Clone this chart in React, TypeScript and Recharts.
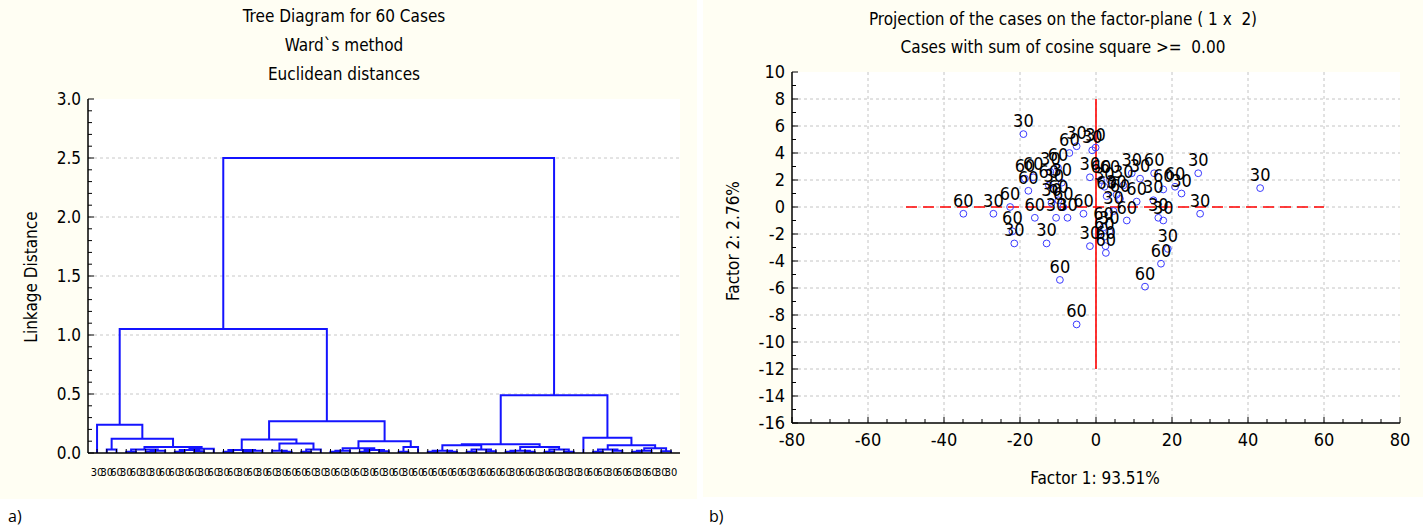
import React from 'react';
import { ComposedChart, Line, Scatter, XAxis, YAxis, ReferenceLine } from 'recharts';

type Node = string | [Node, Node, number];

// Dendrogram (Ward, Euclidean). Leaves carry the case label, inner nodes the linkage distance.
const A1: Node = ['30', [['30', '60', 0.03], [
  [['30', '60', 0.01], [['30', '30', 0.01], '60', 0.02], 0.03],
  [[['60', '30', 0.01], ['60', '30', 0.015], 0.025], '60', 0.035],
  0.05], 0.12], 0.24];
const A2a: Node = [
  [['30', '60', 0.01], [['30', '60', 0.01], '30', 0.02], 0.025],
  [['60', ['30', '60', 0.01], 0.02], [['60', '60', 0.01], '30', 0.03], 0.08],
  0.115];
const A2b: Node = [
  [[['30', '60', 0.01], '30', 0.02], [['60', '30', 0.01], ['60', '30', 0.015], 0.025], 0.04],
  [['60', '30', 0.01], '60', 0.05],
  0.10];
const B1: Node = [
  [[['60', '60', 0.01], ['60', '60', 0.01], 0.02], [['60', '30', 0.01], ['60', '60', 0.015], 0.03], 0.065],
  [[['60', '30', 0.01], ['60', '60', 0.01], 0.02], [['30', '60', 0.01], ['30', '30', 0.01], 0.03], 0.05],
  0.075];
const B2: Node = ['30', [
  [['60', '60', 0.01], ['30', '60', 0.02], 0.03],
  [[['60', '30', 0.01], '60', 0.02], ['30', '30', 0.015], 0.04],
  0.065], 0.13];
const TREE: Node = [[A1, [A2a, A2b, 0.27], 1.05], [B1, B2, 0.49], 2.5];

const DEND_Y_MAJOR = [0, 0.5, 1, 1.5, 2, 2.5, 3];

// Factor plane projection
const F1 = [
  -19.1, -7.0, -5.1, -1.0, -0.1, -1.6, -18.7, -16.5, -17.8, -22.6,
  -34.9, -27.0, -22.0, -21.5, -16.1, -13.0, -10.5, -7.5, -3.3, -9.5,
  -5.1, -1.6, 2.0, 2.2, 2.5, 2.6, 3.5, 8.1, 10.7, 4.6,
  12.9, 17.1, 18.9, 16.4, 17.7, 15.1, 17.7, 15.3, 11.6, 9.4,
  20.8, 22.5, 26.9, 27.4, 43.2, 1.3, 2.2, 3.7, 5.4, 6.3,
  7.2, 2.8, -12.4, -11.1, -9.9, -9.0, -11.7, -8.6, -10.0, -12.0,
];
const F2 = [
  5.4, 4.0, 4.5, 4.2, 4.4, 2.2, 2.1, 2.2, 1.2, 0.0,
  -0.5, -0.5, -1.8, -2.7, -0.8, -2.7, -0.8, -0.8, -0.5, -5.4,
  -8.7, -2.9, -1.5, -2.2, -2.9, -3.4, -1.8, -1.0, 0.4, -0.3,
  -5.9, -4.2, -3.1, -0.8, -1.0, 0.5, 1.3, 2.5, 2.1, 2.5,
  1.5, 1.0, 2.5, -0.5, 1.4, 2.0, 1.5, 2.0, 0.9, 0.6,
  1.6, 0.8, 1.6, 1.3, 0.5, 1.8, 0.3, 0.0, 2.9, 2.6,
];
const CASES = [
  '30', '60', '30', '30', '30', '30', '60', '60', '60', '60',
  '60', '30', '60', '30', '60', '30', '30', '30', '60', '60',
  '60', '30', '60', '60', '60', '60', '30', '60', '60', '30',
  '60', '60', '30', '30', '30', '30', '60', '60', '30', '30',
  '60', '30', '30', '30', '30', '60', '30', '60', '30', '60',
  '30', '60', '60', '30', '60', '30', '30', '60', '60', '30',
];
const SC_X_MAJOR = [-80, -60, -40, -20, 0, 20, 40, 60, 80];
const SC_Y_MAJOR = [-16, -14, -12, -10, -8, -6, -4, -2, 0, 2, 4, 6, 8, 10];

const FONT = "'Liberation Sans Narrow', 'Arial Narrow', 'DejaVu Sans Condensed', sans-serif";
const CREAM = '#fffef3';
const BLUE = '#1414ff';

// lay out the tree: leaves get consecutive indices, inner nodes sit midway
type Link = { x: number; y: number }[];
function layoutTree(root: Node) {
  const links: Link[] = [];
  const labels: string[] = [];
  const walk = (n: Node): { x: number; h: number } => {
    if (typeof n === 'string') {
      labels.push(n);
      return { x: labels.length - 1, h: 0 };
    }
    const l = walk(n[0]);
    const r = walk(n[1]);
    links.push([{ x: l.x, y: l.h }, { x: l.x, y: n[2] }, { x: r.x, y: n[2] }, { x: r.x, y: r.h }]);
    return { x: (l.x + r.x) / 2, h: n[2] };
  };
  walk(root);
  return { links, labels };
}

const steps = (a: number, b: number, s: number) => {
  const out: number[] = [];
  for (let v = a; v <= b + 1e-9; v += s) out.push(Math.round(v * 1000) / 1000);
  return out;
};
const isMajor = (v: number, majors: number[]) => majors.some((m) => Math.abs(m - v) < 1e-6);

function Txt({ x, y, size = 17, rotate = false, children }: any) {
  return (
    <div style={{
      position: 'absolute', left: x, top: y, whiteSpace: 'pre', fontFamily: FONT,
      fontSize: size, lineHeight: 1, color: '#000',
      transform: `translate(-50%, -50%)${rotate ? ' rotate(-90deg)' : ''}`,
    }}>{children}</div>
  );
}

function Dendrogram() {
  const W = 697, H = 499;
  const L = 88, R = 680, T = 99, B = 453;
  const { links, labels } = layoutTree(TREE);
  const leafIdx = labels.map((_, i) => i);
  const xDom: [number, number] = [-0.93, labels.length - 1 + 0.93];
  const frame = { stroke: '#000', strokeWidth: 1.5 };

  const leafTick = (p: any) => (
    <g>
      <line x1={p.x} x2={p.x} y1={p.y} y2={p.y - 4} stroke="#000" />
      <text x={p.x} y={p.y + 23} textAnchor="middle" fontSize={11} fontFamily={FONT} fill="#000">
        {labels[p.payload.value]}
      </text>
    </g>
  );
  const topTick = (p: any) => <line x1={p.x} x2={p.x} y1={p.y} y2={p.y + 4} stroke="#000" />;
  const leftTick = (p: any) => {
    const major = isMajor(p.payload.value, DEND_Y_MAJOR);
    return (
      <g>
        <line x1={p.x} x2={p.x + (major ? 6 : 4)} y1={p.y} y2={p.y} stroke="#000" />
        {major && (
          <text x={p.x - 7} y={p.y} dy="0.35em" textAnchor="end" fontSize={17} fontFamily={FONT} fill="#000">
            {p.payload.value.toFixed(1)}
          </text>
        )}
      </g>
    );
  };
  const rightTick = (p: any) => <line x1={p.x} x2={p.x - 4} y1={p.y} y2={p.y} stroke="#000" />;
  const yTicks = steps(0, 3, 0.1);

  return (
    <div style={{ position: 'absolute', left: 0, top: 0, width: W, height: H, background: CREAM }}>
      <Txt x={344} y={16} size={17}>Tree Diagram for 60 Cases</Txt>
      <Txt x={344} y={45} size={17}>Ward`s method</Txt>
      <Txt x={344} y={74} size={17}>Euclidean distances</Txt>
      <Txt x={31} y={277} rotate>Linkage Distance</Txt>
      <div style={{ position: 'absolute', left: L, top: T, width: R - L, height: B - T, background: '#fff' }} />
      <div style={{ position: 'absolute', left: 0, top: 0 }}>
        <ComposedChart width={W} height={H} margin={{ top: T, right: W - R, bottom: 0, left: 0 }}>
          <XAxis xAxisId="b" dataKey="x" type="number" domain={xDom} ticks={leafIdx} interval={0}
            height={H - B} tickSize={0} tickMargin={0} tickLine={false} axisLine={frame} tick={leafTick} />
          <XAxis xAxisId="t" orientation="top" type="number" domain={xDom} ticks={leafIdx} interval={0}
            height={0} tickSize={0} tickMargin={0} tickLine={false} axisLine={frame} tick={topTick} />
          <YAxis yAxisId="l" dataKey="y" type="number" domain={[0, 3]} ticks={yTicks} interval={0}
            width={L} tickSize={0} tickMargin={0} tickLine={false} axisLine={frame} tick={leftTick} />
          <YAxis yAxisId="r" orientation="right" type="number" domain={[0, 3]} ticks={yTicks} interval={0}
            width={0} tickSize={0} tickMargin={0} tickLine={false} axisLine={frame} tick={rightTick} />
          {DEND_Y_MAJOR.slice(1, -1).map((v) => (
            <ReferenceLine key={v} xAxisId="b" yAxisId="l" y={v} stroke="#c8c8c8" strokeDasharray="3 3" />
          ))}
          {links.map((pts, i) => (
            <Line key={i} xAxisId="b" yAxisId="l" data={pts} dataKey="y" type="linear" stroke={BLUE}
              strokeWidth={2} dot={false} activeDot={false} isAnimationActive={false} />
          ))}
        </ComposedChart>
      </div>
    </div>
  );
}

function FactorPlane() {
  const X0 = 703, W = 720, H = 497;
  const L = 89, R = 697, T = 72, B = 423;
  const points = F1.map((x, i) => ({ x, y: F2[i], label: CASES[i] }));
  const frame = { stroke: '#000', strokeWidth: 1.5 };
  const xTicks = steps(-80, 80, 5);
  const yTicks = steps(-16, 10, 1);

  const bottomTick = (p: any) => {
    const major = isMajor(p.payload.value, SC_X_MAJOR);
    return (
      <g>
        <line x1={p.x} x2={p.x} y1={p.y} y2={p.y - (major ? 6 : 4)} stroke="#000" />
        {major && (
          <text x={p.x} y={p.y + 23} textAnchor="middle" fontSize={18} fontFamily={FONT} fill="#000">
            {p.payload.value}
          </text>
        )}
      </g>
    );
  };
  const topTick = (p: any) => (
    <line x1={p.x} x2={p.x} y1={p.y} y2={p.y + (isMajor(p.payload.value, SC_X_MAJOR) ? 6 : 4)} stroke="#000" />
  );
  const leftTick = (p: any) => {
    const major = isMajor(p.payload.value, SC_Y_MAJOR);
    return (
      <g>
        <line x1={p.x} x2={p.x + (major ? 6 : 4)} y1={p.y} y2={p.y} stroke="#000" />
        {major && (
          <text x={p.x - 7} y={p.y} dy="0.35em" textAnchor="end" fontSize={18} fontFamily={FONT} fill="#000">
            {p.payload.value}
          </text>
        )}
      </g>
    );
  };
  const rightTick = (p: any) => (
    <line x1={p.x} x2={p.x - (isMajor(p.payload.value, SC_Y_MAJOR) ? 6 : 4)} y1={p.y} y2={p.y} stroke="#000" />
  );

  return (
    <div style={{ position: 'absolute', left: X0, top: 0, width: W, height: H, background: CREAM }}>
      <Txt x={360} y={19} size={17}>{'Projection of the cases on the factor-plane ( 1 x  2)'}</Txt>
      <Txt x={360} y={47} size={17}>{'Cases with sum of cosine square >=  0.00'}</Txt>
      <Txt x={30} y={241} rotate>Factor 2: 2.76%</Txt>
      <Txt x={392} y={478}>Factor 1: 93.51%</Txt>
      <div style={{ position: 'absolute', left: L, top: T, width: R - L, height: B - T, background: '#fff' }} />
      <div style={{ position: 'absolute', left: 0, top: 0 }}>
        <ComposedChart width={W} height={H} margin={{ top: T, right: W - R, bottom: 0, left: 0 }}>
          <XAxis xAxisId="b" dataKey="x" type="number" domain={[-80, 80]} ticks={xTicks} interval={0}
            height={H - B} tickSize={0} tickMargin={0} tickLine={false} axisLine={frame} tick={bottomTick} />
          <XAxis xAxisId="t" orientation="top" type="number" domain={[-80, 80]} ticks={xTicks} interval={0}
            height={0} tickSize={0} tickMargin={0} tickLine={false} axisLine={frame} tick={topTick} />
          <YAxis yAxisId="l" dataKey="y" type="number" domain={[-16, 10]} ticks={yTicks} interval={0}
            width={L} tickSize={0} tickMargin={0} tickLine={false} axisLine={frame} tick={leftTick} />
          <YAxis yAxisId="r" orientation="right" type="number" domain={[-16, 10]} ticks={yTicks} interval={0}
            width={0} tickSize={0} tickMargin={0} tickLine={false} axisLine={frame} tick={rightTick} />
          {SC_X_MAJOR.slice(1, -1).map((v) => (
            <ReferenceLine key={'x' + v} xAxisId="b" yAxisId="l" x={v} stroke="#c4c4c4" strokeDasharray="3 3" />
          ))}
          {SC_Y_MAJOR.slice(1, -1).map((v) => (
            <ReferenceLine key={'y' + v} xAxisId="b" yAxisId="l" y={v} stroke="#c4c4c4" strokeDasharray="3 3" />
          ))}
          <ReferenceLine xAxisId="b" yAxisId="l" segment={[{ x: -50, y: 0 }, { x: 60, y: 0 }]}
            stroke="#ff0000" strokeWidth={1.6} strokeDasharray="11 6" />
          <ReferenceLine xAxisId="b" yAxisId="l" segment={[{ x: 0, y: 8 }, { x: 0, y: -12 }]}
            stroke="#ff0000" strokeWidth={1.6} />
          <Scatter xAxisId="b" yAxisId="l" data={points} isAnimationActive={false}
            shape={(p: any) => <circle cx={p.cx} cy={p.cy} r={3.4} fill="none" stroke="#3a3aff" strokeWidth={1} />} />
          <Scatter xAxisId="b" yAxisId="l" data={points} isAnimationActive={false}
            shape={(p: any) => (
              <text x={p.cx} y={p.cy - 7} textAnchor="middle" fontSize={18} fontFamily={FONT} fill="#000">
                {p.payload.label}
              </text>
            )} />
        </ComposedChart>
      </div>
    </div>
  );
}

export default function App() {
  return (
    <div style={{ position: 'fixed', left: 0, top: 0, width: 1423, height: 527, background: '#fff', overflow: 'hidden' }}>
      <Dendrogram />
      <FactorPlane />
      <div style={{ position: 'absolute', left: 8, top: 505, fontFamily: "'Open Sans', sans-serif", fontSize: 16 }}>a)</div>
      <div style={{ position: 'absolute', left: 709, top: 505, fontFamily: "'Open Sans', sans-serif", fontSize: 16 }}>b)</div>
    </div>
  );
}
